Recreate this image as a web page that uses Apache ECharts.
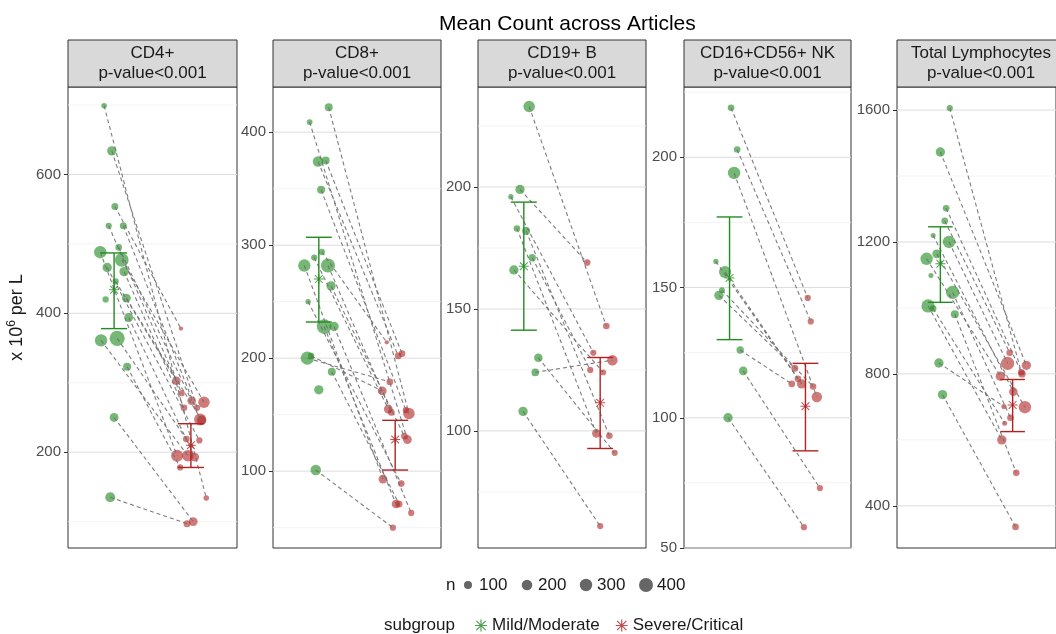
<!DOCTYPE html>
<html>
<head>
<meta charset="utf-8">
<script src="https://cdn.jsdelivr.net/npm/echarts@6/dist/echarts.min.js"></script>
<style>html,body{margin:0;padding:0;background:#fff}#chart{width:1056px;height:634px}</style>
</head>
<body>
<div id="chart"></div>
<script>
// facets
var panelNames = ['CD4+', 'CD8+', 'CD19+ B', 'CD16+CD56+ NK', 'Total Lymphocytes'];
var pLabels = ['p-value<0.001', 'p-value<0.001', 'p-value<0.001', 'p-value<0.001', 'p-value<0.001'];

// one row per article: [jittered x, value, n]; same index in Mild/Severe = same article
var cd4Mild = [[0.87,699,35],[0.97,634,150],[1.01,554,70],[0.93,526,50],[1.12,526,70],[0.82,488,300],[1.06,495,60],[1.10,477,380],[0.91,466,150],[1.13,460,150],[1.02,446,50],[0.89,420,50],[1.16,422,130],[1.19,394,130],[0.83,361,300],[1.04,364,480],[1.17,323,100],[1.00,250,130],[0.95,135,180]];
var cd4Severe = [[2.20,134,35],[2.08,264,50],[1.87,378,15],[1.88,285,50],[2.12,247,280],[1.82,195,280],[2.01,274,120],[2.17,272,250],[2.11,217,50],[1.91,264,60],[1.81,303,120],null,[2.14,246,150],[2.05,193,130],[1.96,195,250],[1.94,219,60],[1.86,178,50],[2.03,100,130],[1.95,97,70]];
var cd8Mild = [[1.13,422,100],[0.88,409,40],[0.99,374,200],[1.09,375,100],[1.03,349,100],[0.81,282,300],[0.94,289,50],[1.04,294,50],[1.12,282,400],[0.86,250,30],[1.16,264,150],[1.07,228,450],[1.20,228,150],[0.85,200,350],[0.90,202,50],[1.17,188,100],[1.00,172,150],[0.96,101,200]];
var cd8Severe = [[2.18,151,250],[2.16,128,130],[2.04,202,60],[2.09,204,60],[2.14,154,50],[1.84,93,130],[1.91,155,130],[1.89,214,15],[1.95,152,60],[2.08,89,60],[2.12,131,60],[2.01,71,120],[2.21,63,50],[1.93,179,60],[1.83,171,130],[2.05,71,70],null,[1.97,50,50]];
var cd19Mild = [[1.07,233,250],[0.95,199,150],[0.83,196,30],[0.91,183,60],[1.03,182,100],[1.11,171,80],[0.87,166,150],[1.19,130,120],[1.15,124,90],[0.99,108,150]];
var cd19Severe = [[2.08,143,60],[1.83,169,60],[1.91,132,50],[1.95,99,120],[2.12,98,60],[1.87,125,50],[2.04,124,40],[2.19,91,50],[2.16,129,200],[2.00,61,50]];
var nkMild = [[1.02,219,60],[1.10,203,60],[1.06,194,300],[0.82,160,30],[0.94,156,280],[0.90,149,40],[0.86,147,150],[1.14,126,80],[1.18,118,120],[0.98,100,150]];
var nkSevere = [[2.03,146,50],[2.07,137,50],[2.15,108,200],[1.90,115,60],[1.95,113,150],[2.10,112,60],[1.86,119,70],[1.82,113,60],[2.19,73,50],[1.98,58,50]];
var totalMild = [[1.13,1606,50],[1.00,1473,150],[1.08,1302,60],[1.06,1264,60],[0.90,1220,25],[1.12,1200,300],[0.95,1164,130],[0.81,1149,300],[0.87,1098,25],[1.17,1047,350],[0.83,1006,350],[0.90,998,60],[1.20,981,100],[0.98,833,150],[1.03,737,150]];
var totalSevere = [[2.12,805,60],[2.19,826,150],[2.13,800,80],[1.96,864,60],[2.01,746,120],[1.93,832,350],[2.17,699,300],[1.83,793,150],null,[1.97,667,60],[1.85,600,150],[1.89,650,25],[2.05,500,60],[1.88,701,30],[2.04,336,60]];

// pooled mean and interval per facet
var mildMean = [434, 270, 167.5, 153.7, 1134];
var mildLow = [378, 232, 141.3, 130, 1017];
var mildHigh = [487, 307, 193.8, 177.1, 1246];
var sevMean = [210, 128, 111.5, 104.4, 706];
var sevLow = [178, 101, 92.8, 87.3, 625];
var sevHigh = [241, 145, 130.1, 120.9, 783];

// axes
var yMin = [62, 32, 52, 50, 272];
var yMax = [726, 440, 241, 227, 1670];
var majorTicks = [[200,400,600],[100,200,300,400],[100,150,200],[50,100,150,200],[400,800,1200,1600]];
var minorTicks = [[100,300,500,700],[50,150,250,350],[75,125,175,225],[75,125,175,225],[600,1000,1400]];
var sizeKeys = [100, 200, 300, 400];

var mildSets = [cd4Mild, cd8Mild, cd19Mild, nkMild, totalMild];
var sevSets = [cd4Severe, cd8Severe, cd19Severe, nkSevere, totalSevere];

var FONT = '"Liberation Sans", Arial, sans-serif';
var GREEN = '#238b23', RED = '#b22222';
var STAR = 'path://M9,0L11,0L11,20L9,20Z M0,9L20,9L20,11L0,11Z M2.9,1.5L18.5,17.1L17.1,18.5L1.5,2.9Z M17.1,1.5L18.5,2.9L2.9,18.5L1.5,17.1Z';
var panelLeft = [68, 273, 478, 684, 897];
var panelWidth = [169, 168, 168, 167, 168];
var TOP = 87, HEIGHT = 461;

function dotSize(n){ return 2 + 0.6 * Math.sqrt(n); }

function gridLineItem(params, api){
  var cs = params.coordSys;
  var y = api.coord([1, api.value(1)])[1];
  return {type:'line', shape:{x1:cs.x, y1:y, x2:cs.x + cs.width, y2:y},
    style:{stroke: api.value(2) ? '#dcdcdc' : '#f0f0f0', lineWidth: api.value(2) ? 1 : 0.8}};
}
function pairItem(params, api){
  var a = api.coord([api.value(0), api.value(1)]);
  var b = api.coord([api.value(2), api.value(3)]);
  return {type:'line', shape:{x1:a[0], y1:a[1], x2:b[0], y2:b[1]},
    style:{stroke:'#6f6f6f', lineWidth:1.1, lineDash:[4,3], opacity:0.9}};
}
function errBar(color){
  return function(params, api){
    var x = api.value(0);
    var hi = api.coord([x, api.value(2)]);
    var lo = api.coord([x, api.value(1)]);
    var l = api.coord([x - 0.17, 0])[0], r = api.coord([x + 0.17, 0])[0];
    var st = {stroke: color, lineWidth: 1.4};
    return {type:'group', children:[
      {type:'line', shape:{x1:hi[0], y1:hi[1], x2:lo[0], y2:lo[1]}, style:st},
      {type:'line', shape:{x1:l, y1:hi[1], x2:r, y2:hi[1]}, style:st},
      {type:'line', shape:{x1:l, y1:lo[1], x2:r, y2:lo[1]}, style:st}
    ]};
  };
}

var grids = [], xAxes = [], yAxes = [], series = [], graphics = [];
panelNames.forEach(function(name, i){
  grids.push({left: panelLeft[i], top: TOP, width: panelWidth[i], height: HEIGHT,
    show: true, borderColor: '#333', borderWidth: 1, backgroundColor: '#fff'});
  xAxes.push({type:'value', gridIndex:i, min:0.4, max:2.6, show:false});
  var ya = {type:'value', gridIndex:i, min:yMin[i], max:yMax[i],
    axisLine:{show:false},
    axisTick:{show:true, length:4, customValues: majorTicks[i], lineStyle:{color:'#333'}},
    axisLabel:{customValues: majorTicks[i], color:'#4d4d4d', fontSize:15, margin:7, fontFamily: FONT,
      formatter: function(v){ return String(v); }},
    splitLine:{show:false}};
  if (i === 0) {
    ya.name = 'x 10{sup|6} per L';
    ya.nameLocation = 'middle';
    ya.nameGap = 40;
    ya.nameTextStyle = {fontSize:18, color:'#1a1a1a', fontFamily: FONT, lineHeight: 22,
      rich:{sup:{fontSize:12, lineHeight:12, verticalAlign:'top', fontFamily: FONT, color:'#1a1a1a'}}};
  }
  yAxes.push(ya);

  var gl = majorTicks[i].map(function(v){ return [1, v, 1]; })
    .concat(minorTicks[i].map(function(v){ return [1, v, 0]; }));
  series.push({type:'custom', xAxisIndex:i, yAxisIndex:i, silent:true, z:1,
    encode:{x:0, y:1}, data: gl, renderItem: gridLineItem});

  var mild = mildSets[i], sev = sevSets[i];
  series.push({type:'scatter', name:'mild-n', xAxisIndex:i, yAxisIndex:i, z:2, silent:true,
    data: mild, symbolSize: function(v){ return dotSize(v[2]); },
    itemStyle:{color:'rgba(34,139,34,0.78)'}});
  series.push({type:'scatter', name:'severe-n', xAxisIndex:i, yAxisIndex:i, z:2, silent:true,
    data: sev.filter(function(d){ return d; }), symbolSize: function(v){ return dotSize(v[2]); },
    itemStyle:{color:'rgba(178,34,34,0.75)'}});

  var pairs = [];
  mild.forEach(function(m, k){ if (sev[k]) pairs.push([m[0], m[1], sev[k][0], sev[k][1]]); });
  series.push({type:'custom', xAxisIndex:i, yAxisIndex:i, silent:true, z:3,
    encode:{x:[0,2], y:[1,3]}, data: pairs, renderItem: pairItem});

  series.push({type:'custom', xAxisIndex:i, yAxisIndex:i, silent:true, z:4,
    encode:{x:0, y:[1,2]}, data:[[1, mildLow[i], mildHigh[i]]], renderItem: errBar(GREEN)});
  series.push({type:'custom', xAxisIndex:i, yAxisIndex:i, silent:true, z:4,
    encode:{x:0, y:[1,2]}, data:[[2, sevLow[i], sevHigh[i]]], renderItem: errBar(RED)});
  series.push({type:'scatter', name:'Mild/Moderate', xAxisIndex:i, yAxisIndex:i, z:5, silent:true,
    symbol: STAR, symbolSize: 10, data:[[1, mildMean[i]]], itemStyle:{color: GREEN}});
  series.push({type:'scatter', name:'Severe/Critical', xAxisIndex:i, yAxisIndex:i, z:5, silent:true,
    symbol: STAR, symbolSize: 10, data:[[2, sevMean[i]]], itemStyle:{color: RED}});

  // facet strip
  graphics.push({type:'rect', shape:{x: panelLeft[i], y: 40, width: panelWidth[i], height: TOP - 40},
    style:{fill:'#d9d9d9', stroke:'#333', lineWidth:1}, z: 10});
  graphics.push({type:'text', x: panelLeft[i] + panelWidth[i] / 2, y: 53, z: 11,
    style:{text: name, fill:'#1a1a1a', font: '17px ' + FONT, align:'center', verticalAlign:'middle'}});
  graphics.push({type:'text', x: panelLeft[i] + panelWidth[i] / 2, y: 73, z: 11,
    style:{text: pLabels[i], fill:'#1a1a1a', font: '17px ' + FONT, align:'center', verticalAlign:'middle'}});
});

// size key
graphics.push({type:'text', x: 446, y: 585, style:{text:'n', fill:'#1a1a1a', font:'17px ' + FONT, verticalAlign:'middle'}});
var keyX = [468, 527, 586, 646];
sizeKeys.forEach(function(n, k){
  graphics.push({type:'circle', shape:{cx: keyX[k], cy: 585, r: dotSize(n) / 2}, style:{fill:'#666'}});
  graphics.push({type:'text', x: keyX[k] + 11, y: 585,
    style:{text: String(n), fill:'#1a1a1a', font:'17px ' + FONT, verticalAlign:'middle'}});
});
graphics.push({type:'text', x: 384, y: 625, style:{text:'subgroup', fill:'#1a1a1a', font:'17px ' + FONT, verticalAlign:'middle'}});

var chart = echarts.init(document.getElementById('chart'));
chart.setOption({
  animation: false,
  backgroundColor: '#fff',
  title: {text:'Mean Count across Articles', left: 434, top: 9,
    textStyle:{fontSize: 21, fontWeight:'normal', color:'#000', fontFamily: FONT}},
  legend: {data:[{name:'Mild/Moderate', icon: STAR}, {name:'Severe/Critical', icon: STAR}],
    left: 470, top: 612, itemWidth: 12, itemHeight: 12, itemGap: 16, selectedMode: false,
    textStyle:{fontSize: 17, color:'#1a1a1a', fontFamily: FONT}},
  grid: grids,
  xAxis: xAxes,
  yAxis: yAxes,
  graphic: graphics,
  series: series
});
</script>
</body>
</html>
